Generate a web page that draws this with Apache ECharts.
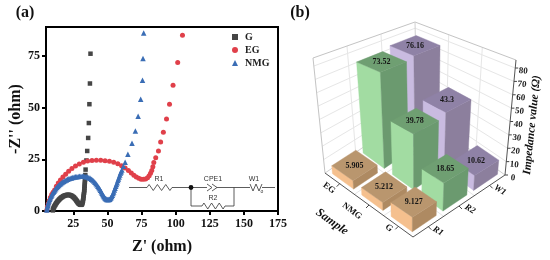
<!DOCTYPE html>
<html><head><meta charset="utf-8">
<style>html,body{margin:0;padding:0;background:#fff}#c{width:550px;height:260px}</style>
<script src="https://cdn.jsdelivr.net/npm/echarts@6/dist/echarts.min.js"></script>
</head><body><div id="c"></div>
<script>
// ---------- panel (a) data: [Z', -Z''] ----------
var seriesG = [[10,0.3],[10.2,0.8],[10.5,1.3],[10.8,1.8],[11.2,2.3],[11.6,2.8],[12,3.2],[12.4,3.7],[12.9,4.1],[13.3,4.5],[13.8,4.9],[14.3,5.3],[14.8,5.6],[15.3,6],[15.9,6.3],[16.4,6.6],[17,6.8],[17.6,7.1],[18.2,7.3],[18.8,7.5],[19.4,7.6],[20,7.7],[20.6,7.8],[21.2,7.8],[21.8,7.8],[22.4,7.7],[23,7.6],[23.6,7.4],[24.2,7.2],[24.8,6.9],[25.3,6.6],[25.8,6.3],[26.3,5.9],[26.8,5.5],[27.2,5.1],[27.6,4.8],[28,4.4],[28.4,4],[28.8,3.7],[29.2,3.5],[29.6,3.3],[30,3.1],[30.4,3],[30.8,3],[31.1,3.1],[31.4,3.4],[31.7,3.8],[31.9,4.4],[32.1,5],[32.3,5.8],[32.4,6.5],[32.6,7.3],[32.7,8],[32.9,8.8],[33,9.6],[33.1,10.4],[33.2,11.3],[33.3,12.2],[33.4,13.1],[33.5,14],[33.6,15],[33.7,16.2],[33.8,17.4],[34,20],[34.6,24.4],[35.2,29],[35.9,35.3],[36.4,42.5],[36.8,51.6],[37.2,61.6],[37.6,76]];
var seriesEG = [[5.6,0.5],[6,2],[6.6,3.5],[7.3,5],[8.2,6.5],[9.2,8],[10.2,9],[11.3,10.2],[12.6,12],[14,13.5],[15.6,15],[17.4,16.4],[19.4,17.8],[21.6,19.2],[24,20.5],[26.6,21.7],[29.4,22.7],[32.4,23.5],[35.5,24.1],[38.7,24.4],[41.9,24.5],[45.1,24.5],[48.3,24.3],[51.5,24],[54.6,23.5],[57.6,22.8],[60.4,21.9],[63,20.8],[65.4,19.6],[67.5,18.4],[69.4,17.3],[71.2,16.4],[73,15.8],[74.7,15.4],[76.4,15.3],[78,15.5],[79.4,16.1],[80.6,17],[81.6,18.2],[82.5,19.6],[83.3,21.4],[84,23.4],[85.4,25.7],[87.4,29],[89,33.3],[91,38],[93.3,44.4],[95.5,51.6],[98.1,60.7],[101.5,71.8],[105,84.9]];
var seriesNMG = [[5.6,0.5],[5.8,1.2],[6,2],[6.3,2.8],[6.6,3.5],[6.9,4.3],[7.3,5],[7.7,5.7],[8.2,6.4],[8.7,7.1],[9.2,7.7],[9.7,8.4],[10.3,9],[10.9,9.6],[11.5,10.2],[12.1,10.8],[12.8,11.3],[13.5,11.8],[14.2,12.3],[14.9,12.8],[15.7,13.2],[16.5,13.6],[17.3,14],[18.1,14.4],[19,14.7],[19.9,15],[20.8,15.3],[21.7,15.6],[22.7,15.8],[23.6,16],[24.6,16.2],[25.6,16.4],[26.6,16.5],[27.6,16.6],[28.6,16.7],[29.6,16.8],[30.6,16.8],[31.6,16.8],[32.6,16.8],[33.6,16.7],[34.6,16.6],[35.6,16.4],[36.5,16.1],[37.4,15.8],[38.3,15.4],[39.2,15],[40,14.5],[40.8,13.9],[41.6,13.3],[42.3,12.7],[43,12],[43.7,11.3],[44.3,10.7],[44.9,10],[45.5,9.3],[46.1,8.6],[46.6,8],[47.1,7.4],[47.6,6.9],[48.1,6.4],[48.6,6],[49.1,5.8],[49.6,5.6],[50.1,5.5],[50.6,5.5],[51.1,5.6],[51.6,5.7],[52.1,6],[52.6,6.4],[53.1,7],[53.6,7.6],[54.1,8.4],[54.6,9.2],[55.1,10.1],[55.6,11],[56.1,11.9],[56.6,12.8],[57.1,13.7],[57.6,14.7],[58.1,15.5],[58.6,16.4],[59.1,17.4],[59.6,18.3],[60.1,19],[60.6,19.8],[61.7,21.6],[63,23.6],[65,27.4],[68,32.7],[70.5,38.6],[72.5,45.8],[74.4,54],[75.7,63.2],[76.1,73.7],[76.6,86]];
var xTicks = [25,50,75,100,125,150,175];
var yTicks = [0,25,50,75];

// ---------- panel (b) data ----------
var samples = ['EG','NMG','G'];
var params = ['R1','R2','W1'];
var valuesR1 = [5.905,5.212,9.127];
var valuesR2 = [73.52,39.78,18.65];
var valuesW1 = [76.16,43.3,10.62];
var zTicks = [0,10,20,30,40,50,60,70,80];

// ---------- styling / scene constants ----------
var SERIF = '"Liberation Serif","Times New Roman",serif';
var SANS = '"Liberation Sans",Arial,sans-serif';
var zTop = 86;
var floor = {L:[325,173],F:[413,237],R:[505,175],B:[417,111]};
var roof  = {L:[313,58], F:[414,98], R:[516,60], B:[415,22]};
var barFracU = 0.72, barFracW = 0.78;
var palette = [
  {left:'#F5C08E',top:'#B9966E',right:'#AE8A62'},
  {left:'#A2DCA2',top:'#6F9F72',right:'#6B9A6F'},
  {left:'#C9BBE0',top:'#8F82A6',right:'#8C7F9D'}
];

function bil(c,u,w){
  return [0,1].map(function(i){
    return (1-u)*(1-w)*c.L[i]+u*(1-w)*c.F[i]+u*w*c.R[i]+(1-u)*w*c.B[i];
  });
}
function project(u,w,z){
  var t=z/zTop,a=bil(floor,u,w),b=bil(roof,u,w);
  return [a[0]+(b[0]-a[0])*t,a[1]+(b[1]-a[1])*t];
}

var barData=[];
[valuesR1,valuesR2,valuesW1].forEach(function(vals,p){
  vals.forEach(function(v,s){barData.push([s,p,v]);});
});
barData.sort(function(a,b){return (a[0]-a[1])-(b[0]-b[1]);});

function renderFrame(params_,api){
  var P=function(u,w,z){return api.coord(project(u,w,z));};
  var kids=[];
  function line(pts,color,width){
    kids.push({type:'polyline',shape:{points:pts},style:{stroke:color,lineWidth:width,fill:null}});
  }
  function text(str,pos,font,rot,align){
    kids.push({type:'text',x:pos[0],y:pos[1],rotation:rot||0,
      style:{text:str,font:font,fill:'#222',align:align||'center',verticalAlign:'middle'}});
  }
  var gridC='#E6E6E6';
  zTicks.forEach(function(z){
    if(z>0) line([P(0,0,z),P(0,1,z),P(1,1,z)],gridC,1);
  });
  [1/3,2/3].forEach(function(k){
    line([P(0,k,0),P(0,k,zTop)],gridC,1);
    line([P(k,1,0),P(k,1,zTop)],gridC,1);
    line([P(0,k,0),P(1,k,0)],gridC,1);
    line([P(k,0,0),P(k,1,0)],gridC,1);
  });
  line([P(0,0,0),P(0,0,zTop),P(0,1,zTop),P(1,1,zTop)],'#C4C4C4',1);
  line([P(0,0,0),P(0,1,0),P(1,1,0)],'#D0D0D0',1);
  line([P(0,1,0),P(0,1,zTop)],'#D0D0D0',1);
  line([P(0,0,0),P(1,0,0),P(1,1,0),P(1,1,zTop)],'#555',1);
  zTicks.forEach(function(z){
    var a=P(1,1,z);
    line([a,[a[0]+3,a[1]]],'#444',1);
    text(String(z),[a[0]+8,a[1]+3],'bold 9px '+SERIF,-0.1);
  });
  samples.forEach(function(n,i){
    var u=(i+0.5)/3,a=P(u,0,0);
    line([a,[a[0]-3,a[1]+3]],'#444',1);
  });
  params.forEach(function(n,i){
    var w=(i+0.5)/3,a=P(1,w,0);
    line([a,[a[0]+3,a[1]+3]],'#444',1);
  });
  return {type:'group',children:kids};
}

function renderBar(params_,api){
  var s=api.value(0),p=api.value(1),v=api.value(2);
  var du=barFracU/2,dw=barFracW/2;
  var u0=(s+0.5-du)/3,u1=(s+0.5+du)/3,w0=(p+0.5-dw)/3,w1=(p+0.5+dw)/3;
  var P=function(u,w,z){return api.coord(project(u,w,z));};
  var c=palette[p];
  function face(pts,fill){
    return {type:'polygon',shape:{points:pts},style:{fill:fill,stroke:fill,lineWidth:0.4}};
  }
  var centre=P((u0+u1)/2,(w0+w1)/2,v);
  return {type:'group',children:[
    face([P(u0,w0,0),P(u1,w0,0),P(u1,w0,v),P(u0,w0,v)],c.left),
    face([P(u1,w0,0),P(u1,w1,0),P(u1,w1,v),P(u1,w0,v)],c.right),
    face([P(u0,w0,v),P(u1,w0,v),P(u1,w1,v),P(u0,w1,v)],c.top),
    {type:'text',x:centre[0],y:centre[1],
     style:{text:String(v),font:'bold 8px '+SERIF,fill:'#151515',align:'center',verticalAlign:'middle'}}
  ]};
}

function gText(text,x,y,font,rot,fill){
  return {type:'text',x:x,y:y,rotation:rot||0,silent:true,
    style:{text:text,font:font,fill:fill||'#111',align:'center',verticalAlign:'middle'}};
}
function gLine(pts,w){
  return {type:'polyline',silent:true,shape:{points:pts},style:{stroke:'#333',lineWidth:w||0.8,fill:null}};
}
function zig(x0,x1,y,n,a){
  var pts=[[x0,y]],st=(x1-x0)/(n*2);
  for(var i=0;i<n*2;i++){pts.push([x0+st*(i+0.5),(i%2?y+a:y-a)]);}
  pts.push([x1,y]);return pts;
}
var circuit=[
  gLine([[129,187.5],[147,187.5]]),
  gLine(zig(147,172,187.5,3,3)),
  gLine([[172,187.5],[207,187.5]]),
  gLine([[207,184],[212,187.5],[207,191]]),
  gLine([[212,184],[217,187.5],[212,191]]),
  gLine([[217,187.5],[250,187.5]]),
  gLine([[250,184],[253,191],[256,184],[259,191],[262,184]]),
  gLine([[262,187.5],[275,187.5]]),
  gLine([[191,187.5],[191,206],[202,206]]),
  gLine(zig(202,225,206,3,3)),
  gLine([[225,206],[234,206],[234,187.5]]),
  {type:'circle',silent:true,shape:{cx:191,cy:187.5,r:2.4},style:{fill:'#111'}},
  gText('R1',159,179,'7px '+SANS,0,'#333'),
  gText('CPE1',213,179,'7px '+SANS,0,'#333'),
  gText('R2',213,198,'7px '+SANS,0,'#333'),
  gText('W1',254,179,'7px '+SANS,0,'#333'),
  gText('o',262,192,'5px '+SANS,0,'#333')
];
var sceneText=[
  gText('(a)',25,13,'bold 16px '+SERIF),
  gText('(b)',300,13,'bold 16px '+SERIF),
  gText('EG',329,188,'bold 9px '+SERIF,-0.65),
  gText('NMG',352,211,'bold 9px '+SERIF,-0.65),
  gText('G',389,228,'bold 9px '+SERIF,-0.65),
  gText('R1',438,231,'italic bold 9px '+SERIF,-0.55),
  gText('R2',470,209,'italic bold 9px '+SERIF,-0.55),
  gText('W1',500,190,'italic bold 9px '+SERIF,-0.55),
  gText('Sample',332,222,'italic bold 12px '+SERIF,-0.62),
  gText('Impedance value (\u03A9)',532,125,'italic bold 11.5px '+SERIF,1.47)
];

var chart=echarts.init(document.getElementById('c'),null,{renderer:'canvas'});
var labelStyle={fontFamily:SERIF,fontWeight:'bold',fontSize:12,color:'#111'};
chart.setOption({
  animation:false,
  backgroundColor:'#fff',
  legend:{
    data:['G','EG','NMG'],orient:'vertical',left:232,top:32,
    itemWidth:6,itemHeight:6,itemGap:3,padding:0,
    textStyle:{fontFamily:SERIF,fontWeight:'bold',fontSize:10,color:'#222',padding:[0,0,0,2]}
  },
  grid:[
    {left:46,right:272,top:27,bottom:47,show:true,borderColor:'#000',borderWidth:2,backgroundColor:'transparent'},
    {left:0,top:0,width:550,height:260,show:false}
  ],
  xAxis:[
    {type:'value',gridIndex:0,min:5,max:175,splitLine:{show:false},
     name:"Z' (ohm)",nameLocation:'middle',nameGap:28,
     nameTextStyle:{fontFamily:SERIF,fontWeight:'bold',fontSize:16,color:'#111'},
     axisLine:{show:true,lineStyle:{color:'#000',width:2}},
     axisTick:{show:true,length:4,lineStyle:{color:'#000',width:2},customValues:xTicks},
     axisLabel:Object.assign({customValues:xTicks,margin:7},labelStyle)},
    {type:'value',gridIndex:1,min:0,max:550,show:false}
  ],
  yAxis:[
    {type:'value',gridIndex:0,min:0,max:88.9,splitLine:{show:false},
     name:"-Z'' (ohm)",nameLocation:'middle',nameGap:22,
     nameTextStyle:{fontFamily:SERIF,fontWeight:'bold',fontSize:16,color:'#111'},
     axisLine:{show:true,lineStyle:{color:'#000',width:2}},
     axisTick:{show:true,length:4,lineStyle:{color:'#000',width:2},customValues:yTicks},
     axisLabel:Object.assign({customValues:yTicks,margin:6},labelStyle)},
    {type:'value',gridIndex:1,min:0,max:260,inverse:true,show:false}
  ],
  series:[
    {name:'G',type:'scatter',xAxisIndex:0,yAxisIndex:0,data:seriesG,symbol:'rect',symbolSize:4.5,itemStyle:{color:'#454545',opacity:1}},
    {name:'EG',type:'scatter',xAxisIndex:0,yAxisIndex:0,data:seriesEG,symbol:'circle',symbolSize:5,itemStyle:{color:'#E0404A',opacity:1}},
    {name:'NMG',type:'scatter',xAxisIndex:0,yAxisIndex:0,data:seriesNMG,symbol:'triangle',symbolSize:5.5,itemStyle:{color:'#3A6DB5',opacity:1}},
    {type:'custom',xAxisIndex:1,yAxisIndex:1,silent:true,clip:false,data:[[0,0]],renderItem:renderFrame,z:1,encode:{x:0,y:1}},
    {type:'custom',xAxisIndex:1,yAxisIndex:1,silent:true,clip:false,data:barData,renderItem:renderBar,z:2,encode:{x:0,y:1}}
  ],
  graphic:{elements:circuit.concat(sceneText)}
});
</script></body></html>
